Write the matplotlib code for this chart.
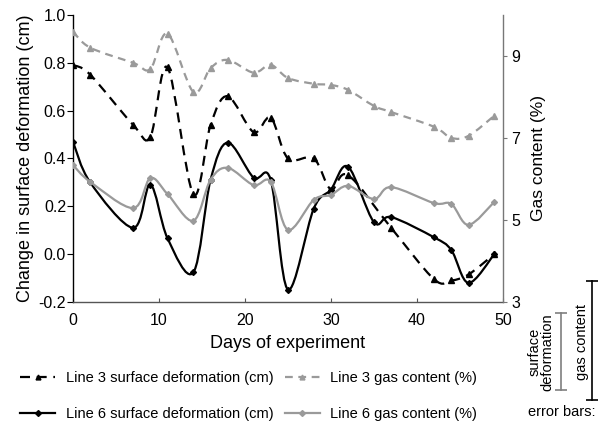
import matplotlib
matplotlib.use("Agg")
import matplotlib.pyplot as plt
import numpy as np
from matplotlib.path import Path
from matplotlib.patches import PathPatch
from matplotlib.lines import Line2D
import matplotlib.transforms as mtransforms

plt.rcParams['font.family'] = ['Liberation Sans', 'DejaVu Sans']

# ---- data ----
days = [0, 2, 7, 9, 11, 14, 16, 18, 21, 23, 25, 28, 30, 32, 35, 37, 42, 44, 46, 49]
l3_def_days = [0, 2, 7, 9, 11, 14, 16, 18, 21, 23, 25, 28, 30, 32, 37, 42, 44, 46, 49]
l3_def = [0.79, 0.75, 0.54, 0.49, 0.78, 0.25, 0.54, 0.66, 0.51, 0.57, 0.40, 0.40,
          0.27, 0.33, 0.11, -0.105, -0.11, -0.085, 0.0]
l3_gas = [9.59, 9.20, 8.83, 8.68, 9.54, 8.12, 8.70, 8.90, 8.59, 8.78, 8.46, 8.32,
          8.29, 8.17, 7.78, 7.63, 7.27, 7.00, 7.05, 7.54]
l6_def = [0.47, 0.30, 0.11, 0.29, 0.066, -0.076, 0.31, 0.466, 0.32, 0.31, -0.148,
          0.19, 0.27, 0.365, 0.134, 0.155, 0.07, 0.017, -0.12, 0.0]
l6_gas = [6.34, 5.93, 5.29, 6.02, 5.63, 4.98, 5.98, 6.27, 5.85, 5.93, 4.76, 5.49,
          5.61, 5.83, 5.51, 5.80, 5.41, 5.39, 4.88, 5.44]
err_surface = 0.32   # cm
err_gas = 2.9        # %

GRAY = '#9a9a9a'

fig = plt.figure(figsize=(6.03, 4.23), dpi=100)
ax = fig.add_axes([0.121, 0.286, 0.713, 0.679])
ax2 = ax.twinx()


def smooth_path(x, y):
    x = np.asarray(x, float)
    y = np.asarray(y, float)
    n = len(x)
    verts = [(x[0], y[0])]
    codes = [Path.MOVETO]
    for i in range(n - 1):
        p0 = np.array([x[max(i - 1, 0)], y[max(i - 1, 0)]])
        p1 = np.array([x[i], y[i]])
        p2 = np.array([x[i + 1], y[i + 1]])
        p3 = np.array([x[min(i + 2, n - 1)], y[min(i + 2, n - 1)]])
        c1 = p1 + (p2 - p0) / 6.0
        c2 = p2 - (p3 - p1) / 6.0
        verts += [tuple(c1), tuple(c2), tuple(p2)]
        codes += [Path.CURVE4] * 3
    return Path(verts, codes)


def draw(axis, x, y, color, ls, marker, ms, dashes=None):
    patch = PathPatch(smooth_path(x, y), facecolor='none', edgecolor=color,
                      lw=1.6, linestyle=ls, capstyle='butt')
    if dashes is not None:
        patch.set_linestyle((0, dashes))
    axis.add_patch(patch)
    axis.plot(x, y, linestyle='none', marker=marker, ms=ms, color=color,
              mec=color)


draw(ax2, days, l3_gas, GRAY, '--', '^', 4.5, dashes=(3.5, 2.5))
draw(ax2, days, l6_gas, GRAY, '-', 'D', 3)
draw(ax, l3_def_days, l3_def, 'black', '--', '^', 4.5, dashes=(4.5, 3))
draw(ax, days, l6_def, 'black', '-', 'D', 3)

ax.set_xlim(0, 50)
ax.set_ylim(-0.2, 1.0)
ax2.set_ylim(3, 10)
ax.set_xticks([0, 10, 20, 30, 40, 50])
ax.set_yticks(np.arange(-0.2, 1.01, 0.2))
ax.set_yticklabels(['-0.2', '0.0', '0.2', '0.4', '0.6', '0.8', '1.0'])
ax2.set_yticks([3, 5, 7, 9])

for a in (ax, ax2):
    a.spines['top'].set_visible(False)
ax.spines['right'].set_visible(False)
ax2.spines['left'].set_visible(False)
ax2.spines['bottom'].set_visible(False)
ax.spines['left'].set_color('black')
ax.spines['bottom'].set_color('#555555')
ax2.spines['right'].set_color('#777777')
for s in ('left', 'bottom'):
    ax.spines[s].set_linewidth(1.0)
ax2.spines['right'].set_linewidth(1.0)

ax.tick_params(axis='y', direction='out', length=4, labelsize=11.5, pad=1)
ax.tick_params(axis='x', direction='in', length=3, labelsize=11.5, pad=8,
               color='#555555')
ax2.tick_params(axis='y', direction='out', length=3, labelsize=11.5, pad=3,
                color='#777777')

ax.set_xlabel('Days of experiment', fontsize=13, labelpad=5)
ax.set_ylabel('Change in surface deformation (cm)', fontsize=13, labelpad=3)
ax2.set_ylabel('Gas content (%)', fontsize=12.5, labelpad=8)

# legend
h1 = Line2D([], [], color='black', ls='--', marker='^', ms=3.5, lw=1.6, dashes=(4.5, 3))
h2 = Line2D([], [], color='black', ls='-', marker='D', ms=3, lw=1.6)
h3 = Line2D([], [], color=GRAY, ls='--', marker='^', ms=3.5, lw=1.6, dashes=(3.5, 2.5))
h4 = Line2D([], [], color=GRAY, ls='-', marker='D', ms=3, lw=1.6)
fig.legend([h1, h2, h3, h4],
           ['Line 3 surface deformation (cm)', 'Line 6 surface deformation (cm)',
            'Line 3 gas content (%)', 'Line 6 gas content (%)'],
           ncol=2, loc='lower left', bbox_to_anchor=(0.012, -0.026),
           frameon=False, fontsize=10.5, handlelength=2.4, handletextpad=0.7,
           columnspacing=0.8, labelspacing=1.5)

# error bar key
blend_l = mtransforms.blended_transform_factory(fig.transFigure, ax.transData)
blend_r = mtransforms.blended_transform_factory(fig.transFigure, ax2.transData)
c_s = -0.407
ax.plot([0.930, 0.930], [c_s - err_surface / 2, c_s + err_surface / 2],
        transform=blend_l, clip_on=False, color='#7f7f7f', lw=1.2,
        marker='_', ms=8, mew=1.2)
c_g = 2.06
ax2.plot([0.982, 0.982], [c_g - err_gas / 2, c_g + err_gas / 2],
         transform=blend_r, clip_on=False, color='black', lw=1.2,
         marker='_', ms=9, mew=1.2)
fig.text(0.897, 0.168, 'surface\ndeformation', rotation=90, ha='center',
         va='center', fontsize=10.5, linespacing=0.9)
fig.text(0.965, 0.192, 'gas content', rotation=90, ha='center', va='center',
         fontsize=10.5)
fig.text(0.875, 0.025, 'error bars:', ha='left', va='center', fontsize=10.5)

fig.savefig('out.png', dpi=100)
